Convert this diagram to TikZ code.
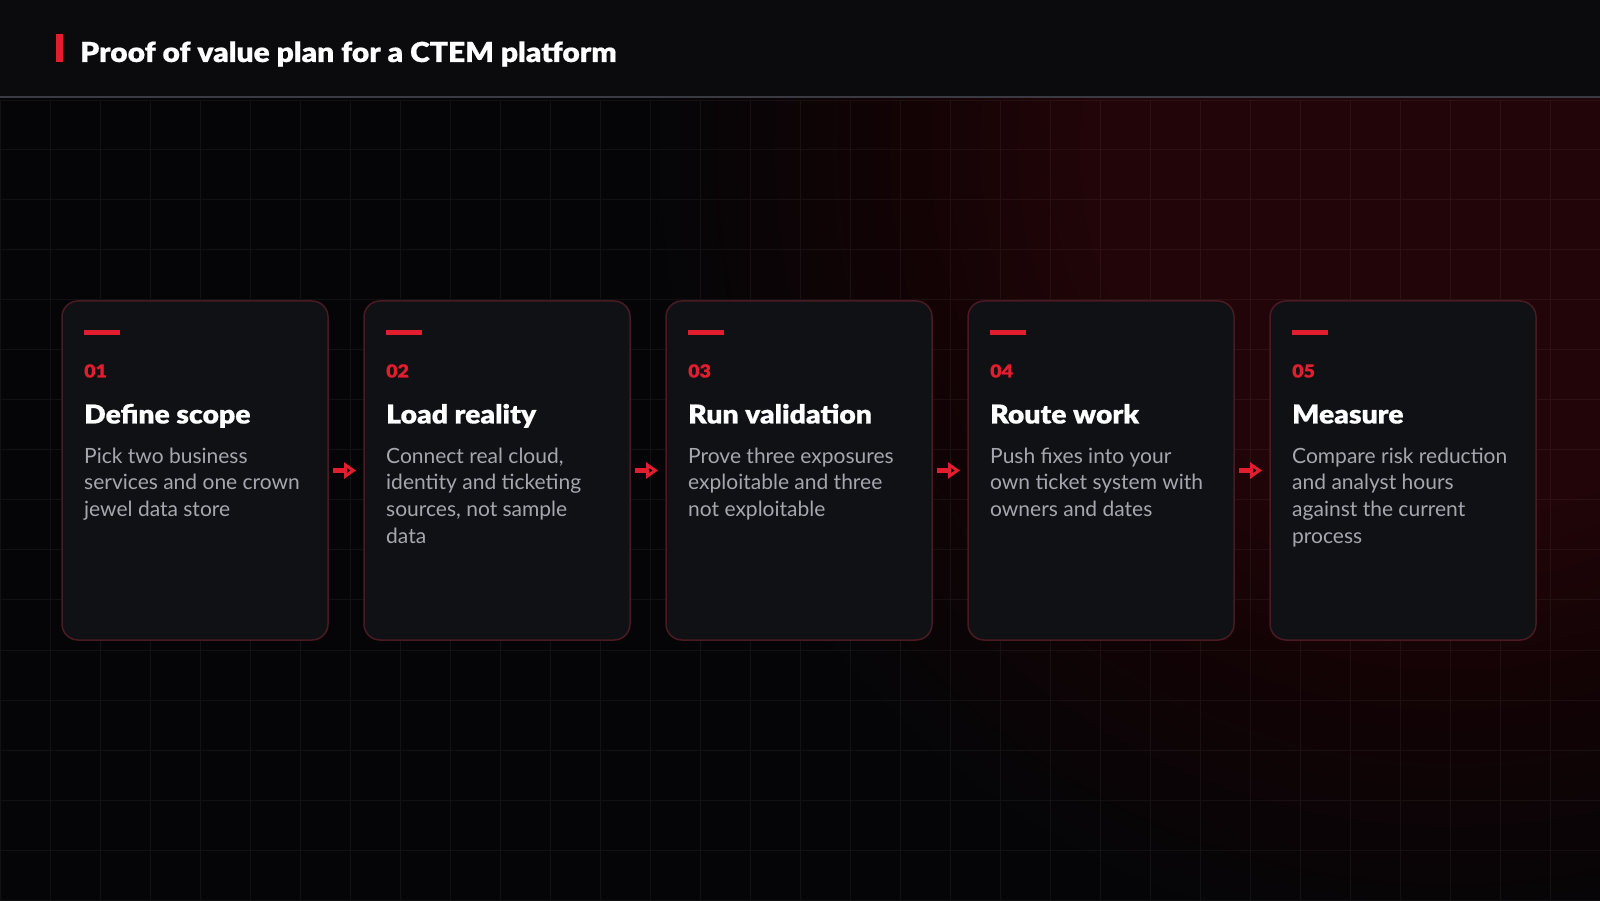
\documentclass[tikz,border=0pt]{standalone}
\usepackage{fontspec}
\setmainfont{Lato}
\newfontfamily\heavyfont{Lato Black}[FakeStretch=1.09, FakeBold=0.6]
\usetikzlibrary{positioning, arrows.meta}

\definecolor{pagebg}{HTML}{050507}
\definecolor{headbg}{HTML}{0B0B0E}
\definecolor{headline}{HTML}{3A3A42}
\definecolor{accent}{HTML}{E11D2E}
\definecolor{cardbg}{HTML}{0F1115}
\definecolor{cardedge}{HTML}{4A1A22}
\definecolor{bodygrey}{HTML}{A6A7AE}
\definecolor{glowcore}{HTML}{220508}
\definecolor{glowmid}{HTML}{120305}

\pgfdeclareradialshading{redglow}{\pgfpoint{0bp}{0bp}}{color(0bp)=(glowcore); color(5.5bp)=(glowcore); color(8.6bp)=(glowmid); color(12.5bp)=(pagebg); color(50bp)=(pagebg)}

\begin{document}
\begin{tikzpicture}[x=1pt, y=1pt]

		% Setup the styles for the cards
		\tikzset{card/.style={rectangle,
				rounded corners=16pt,
				minimum width=266pt,
				minimum height=339pt,
				inner sep=0pt, outer sep=0pt,
				line width=1.5pt,
				draw=cardedge,
				fill=cardbg},
			step number/.style={anchor=base west, inner sep=0pt, text=accent,
				font=\heavyfont\fontsize{18}{22}\selectfont},
			step title/.style={anchor=base west, inner sep=0pt, text=white,
				font=\heavyfont\fontsize{26}{31}\selectfont},
			step text/.style={anchor=base west, inner sep=0pt, text=bodygrey, align=left,
				font=\fontsize{21}{26.7}\selectfont},
			accent bar/.style={draw=accent, line width=5pt},
			grid line/.style={draw=white, opacity=0.05, line width=1pt}}

		\useasboundingbox (0,0) rectangle (1600,900);

		% Background with red glow and grid
		\fill[pagebg] (0,0) rectangle (1600,900);
		\begin{scope}
			\clip (0,0) rectangle (1600,804);
			\shade[shading=redglow] (-150,-850) rectangle (3050,2350);
		\end{scope}
		\draw[grid line] (0,0) grid[step=50pt] (1600,800);

		% Header
		\fill[headbg] (0,804) rectangle (1600,900);
		\draw[headline, line width=2pt] (0,803) -- (1600,803);
		\fill[accent] (56,838) rectangle (63,866);
		\node[anchor=base west, inner sep=0pt, text=white,
			font=\heavyfont\fontsize{27.5}{33}\selectfont] at (80,838) (title)
			{Proof of value plan for a CTEM platform};

		% Draw the cards
		\node[card] at (195, 429.5)  (define)   {};
		\node[card] at (497, 429.5)  (load)     {};
		\node[card] at (799, 429.5)  (validate) {};
		\node[card] at (1101, 429.5) (route)    {};
		\node[card] at (1403, 429.5) (measure)  {};

		% Card texts (body nodes sit on the baseline of their last line)
		\draw[accent bar] ([shift={(22,-32)}]define.north west) -- ++(36,0);
		\node[step number] at ([shift={(22,-76.5)}]define.north west) {01};
		\node[step title] at ([shift={(22,-122.5)}]define.north west) {Define scope};
		\node[step text] at ([shift={(22,-215.7)}]define.north west)
			{Pick two business\\services and one crown\\jewel data store};

		\draw[accent bar] ([shift={(22,-32)}]load.north west) -- ++(36,0);
		\node[step number] at ([shift={(22,-76.5)}]load.north west) {02};
		\node[step title] at ([shift={(22,-122.5)}]load.north west) {Load reality};
		\node[step text] at ([shift={(22,-242.4)}]load.north west)
			{Connect real cloud,\\identity and ticketing\\sources, not sample\\data};

		\draw[accent bar] ([shift={(22,-32)}]validate.north west) -- ++(36,0);
		\node[step number] at ([shift={(22,-76.5)}]validate.north west) {03};
		\node[step title] at ([shift={(22,-122.5)}]validate.north west) {Run validation};
		\node[step text] at ([shift={(22,-215.7)}]validate.north west)
			{Prove three exposures\\exploitable and three\\not exploitable};

		\draw[accent bar] ([shift={(22,-32)}]route.north west) -- ++(36,0);
		\node[step number] at ([shift={(22,-76.5)}]route.north west) {04};
		\node[step title] at ([shift={(22,-122.5)}]route.north west) {Route work};
		\node[step text] at ([shift={(22,-215.7)}]route.north west)
			{Push fixes into your\\own ticket system with\\owners and dates};

		\draw[accent bar] ([shift={(22,-32)}]measure.north west) -- ++(36,0);
		\node[step number] at ([shift={(22,-76.5)}]measure.north west) {05};
		\node[step title] at ([shift={(22,-122.5)}]measure.north west) {Measure};
		\node[step text] at ([shift={(22,-242.4)}]measure.north west)
			{Compare risk reduction\\and analyst hours\\against the current\\process};

		% Connect the cards with arrows
		\draw[line width=5pt,
		draw=accent,
		>={Triangle[length=12pt, width=16pt]},
		shorten <=5pt,
		shorten >=8pt]
		(define)   edge[->] (load)
		(load)     edge[->] (validate)
		(validate) edge[->] (route)
		(route)    edge[->] (measure);
\end{tikzpicture}
\end{document}
